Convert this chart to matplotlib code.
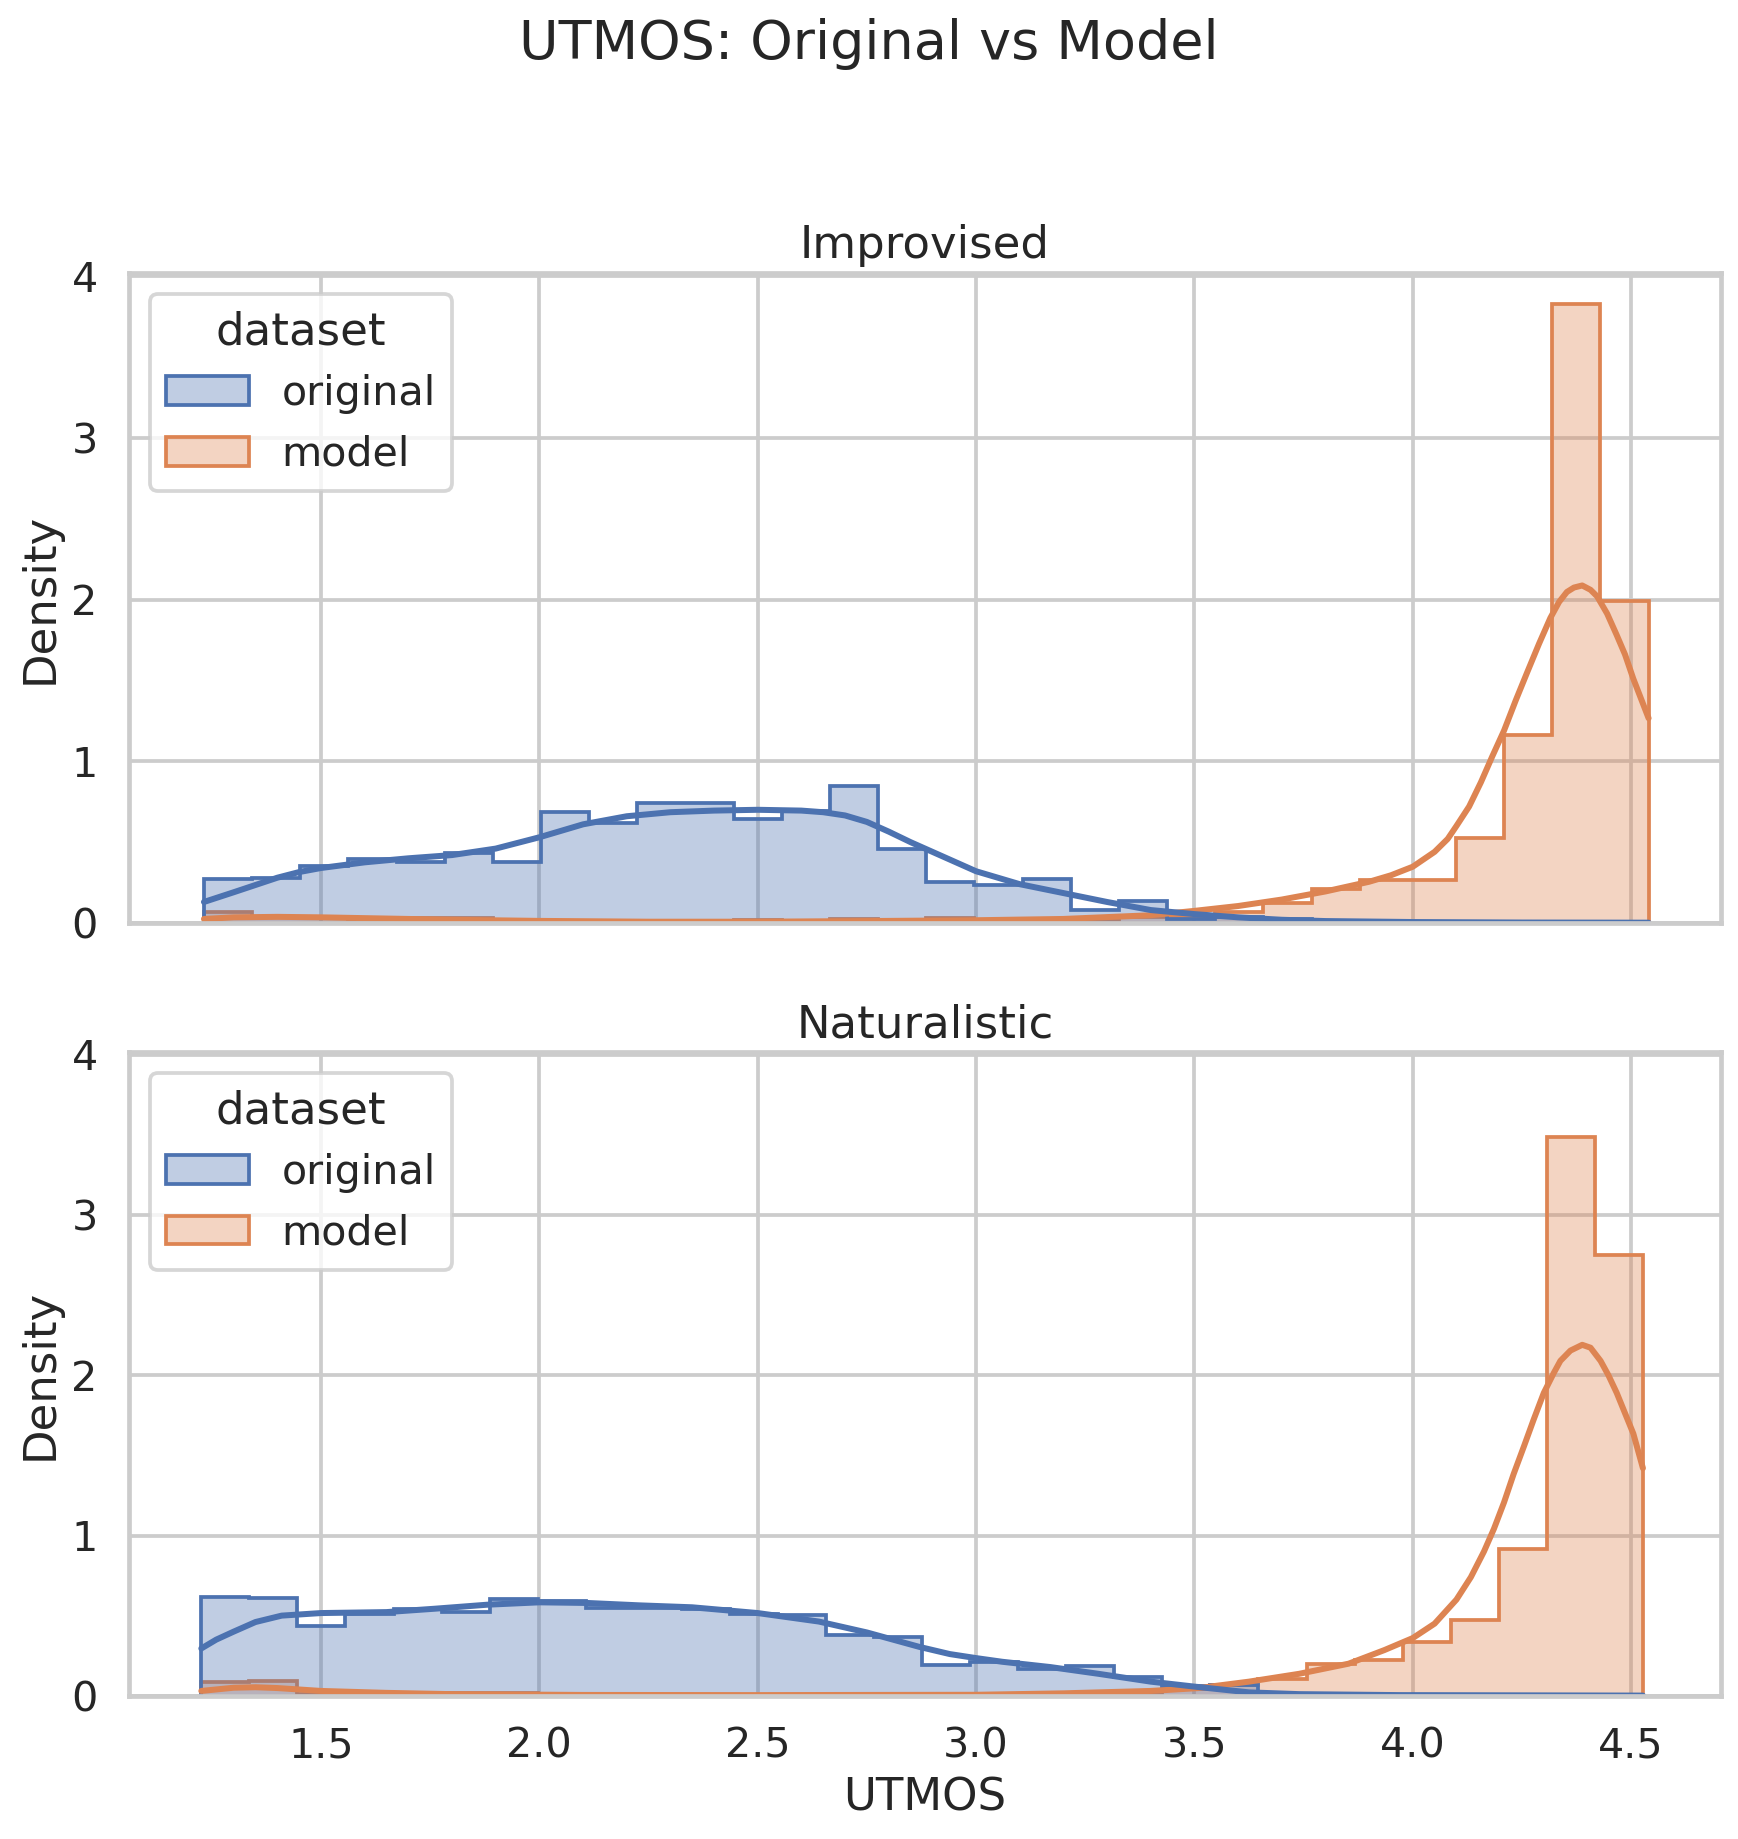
import numpy as np
import matplotlib
matplotlib.use("Agg")
import matplotlib.pyplot as plt
import seaborn as sns
from matplotlib.colors import to_rgba
from matplotlib.patches import Patch

sns.set_theme(style="whitegrid", context="talk")

# ---- data ----
panels = ["Improvised", "Naturalistic"]
datasets = ["original", "model"]

# histogram bin range per panel (30 common bins)
imp_range = (1.232, 4.540)
nat_range = (1.226, 4.527)
n_bins = 30

imp_original = [0.274, 0.280, 0.354, 0.396, 0.380, 0.434, 0.375, 0.686, 0.621, 0.739,
                0.739, 0.644, 0.695, 0.846, 0.455, 0.253, 0.238, 0.270, 0.080, 0.139,
                0.027, 0.034, 0.025, 0.010, 0.005, 0.005, 0.004, 0.003, 0.003, 0.003]
imp_model = [0.065, 0.040, 0.030, 0.025, 0.030, 0.030, 0.010, 0.010, 0.005, 0.010,
             0.010, 0.020, 0.010, 0.025, 0.020, 0.030, 0.020, 0.020, 0.020, 0.035,
             0.045, 0.065, 0.125, 0.210, 0.268, 0.268, 0.527, 1.164, 3.826, 1.993]
nat_original = [0.617, 0.613, 0.438, 0.510, 0.543, 0.520, 0.604, 0.590, 0.550, 0.550,
                0.543, 0.510, 0.505, 0.379, 0.364, 0.194, 0.210, 0.168, 0.185, 0.116,
                0.059, 0.067, 0.005, 0.004, 0.003, 0.002, 0.002, 0.001, 0.001, 0.001]
nat_model = [0.085, 0.095, 0.010, 0.010, 0.020, 0.020, 0.020, 0.005, 0.005, 0.005,
             0.005, 0.003, 0.003, 0.005, 0.005, 0.005, 0.005, 0.005, 0.010, 0.020,
             0.045, 0.070, 0.105, 0.200, 0.220, 0.333, 0.470, 0.917, 3.487, 2.753]

# kde curves (x, density) read at points along the line
imp_original_kde_x = [1.232, 1.30, 1.35, 1.40, 1.45, 1.50, 1.60, 1.70, 1.80, 1.90, 2.00,
                      2.10, 2.20, 2.30, 2.40, 2.50, 2.60, 2.65, 2.70, 2.75, 2.80, 2.85,
                      2.90, 2.95, 3.00, 3.10, 3.20, 3.30, 3.40, 3.50, 3.60, 3.70, 3.80,
                      4.00, 4.25, 4.54]
imp_original_kde_y = [0.13, 0.19, 0.235, 0.28, 0.315, 0.34, 0.375, 0.40, 0.42, 0.46, 0.53,
                      0.61, 0.66, 0.685, 0.695, 0.70, 0.695, 0.685, 0.665, 0.625, 0.565, 0.50,
                      0.44, 0.38, 0.32, 0.24, 0.185, 0.13, 0.08, 0.055, 0.035, 0.02, 0.012,
                      0.006, 0.003, 0.002]
imp_model_kde_x = [1.232, 1.30, 1.40, 1.50, 1.60, 1.80, 2.00, 2.25, 2.50, 2.75, 3.00,
                   3.20, 3.40, 3.50, 3.60, 3.70, 3.80, 3.90, 3.95, 4.00, 4.05, 4.08,
                   4.10, 4.129, 4.156, 4.182, 4.209, 4.236, 4.262, 4.289, 4.315, 4.335,
                   4.353, 4.369, 4.388, 4.407, 4.422, 4.445, 4.467, 4.486, 4.505, 4.54]
imp_model_kde_y = [0.025, 0.035, 0.038, 0.035, 0.03, 0.02, 0.013, 0.008, 0.008, 0.012, 0.017,
                   0.025, 0.048, 0.075, 0.105, 0.145, 0.195, 0.255, 0.295, 0.348, 0.44, 0.52,
                   0.60, 0.72, 0.87, 1.03, 1.19, 1.378, 1.55, 1.726, 1.886, 1.985,
                   2.047, 2.074, 2.087, 2.06, 2.02, 1.913, 1.78, 1.66, 1.51, 1.266]
nat_original_kde_x = [1.226, 1.26, 1.30, 1.35, 1.41, 1.50, 1.65, 1.76, 1.88, 2.00, 2.11,
                      2.23, 2.35, 2.50, 2.64, 2.75, 2.87, 2.94, 3.00, 3.06, 3.17, 3.28,
                      3.40, 3.50, 3.625, 3.74, 3.97, 4.527]
nat_original_kde_y = [0.295, 0.35, 0.40, 0.46, 0.50, 0.516, 0.522, 0.543, 0.568, 0.583, 0.579,
                      0.564, 0.552, 0.516, 0.463, 0.395, 0.305, 0.26, 0.235, 0.212, 0.179, 0.137,
                      0.088, 0.057, 0.021, 0.01, 0.004, 0.001]
nat_model_kde_x = [1.226, 1.30, 1.35, 1.40, 1.50, 1.65, 1.80, 2.10, 2.50, 3.00, 3.20,
                   3.40, 3.51, 3.625, 3.74, 3.853, 3.935, 4.00, 4.05, 4.08, 4.10, 4.133,
                   4.163, 4.186, 4.209, 4.231, 4.255, 4.277, 4.30, 4.323, 4.338, 4.361,
                   4.388, 4.407, 4.43, 4.448, 4.467, 4.486, 4.505, 4.527]
nat_model_kde_y = [0.03, 0.05, 0.053, 0.048, 0.03, 0.018, 0.01, 0.005, 0.004, 0.006, 0.015,
                   0.03, 0.048, 0.088, 0.137, 0.2, 0.285, 0.36, 0.45, 0.54, 0.60, 0.74,
                   0.90, 1.043, 1.207, 1.384, 1.56, 1.725, 1.89, 2.015, 2.09, 2.154,
                   2.19, 2.172, 2.09, 2.0, 1.89, 1.763, 1.636, 1.42]

colors = {"original": "#4C72B0", "model": "#DD8452"}
fill_alpha = 0.35

hists = {
    "Improvised": (imp_range, {"original": imp_original, "model": imp_model}),
    "Naturalistic": (nat_range, {"original": nat_original, "model": nat_model}),
}
kdes = {
    "Improvised": {"original": (imp_original_kde_x, imp_original_kde_y),
                   "model": (imp_model_kde_x, imp_model_kde_y)},
    "Naturalistic": {"original": (nat_original_kde_x, nat_original_kde_y),
                     "model": (nat_model_kde_x, nat_model_kde_y)},
}

fig, axes = plt.subplots(2, 1, figsize=(1738 / 180, 1839 / 180), dpi=180,
                         sharex=True, sharey=True,
                         gridspec_kw={"height_ratios": [650, 644]})
fig.subplots_adjust(left=0.0742, right=0.9902, top=0.8514, bottom=0.0779, hspace=0.1995)

ymax = 0
for ax, panel in zip(axes, panels):
    (lo, hi), vals = hists[panel]
    edges = np.linspace(lo, hi, n_bins + 1)
    # model drawn first so the original layer sits on top
    for name in ["model", "original"]:
        c = colors[name]
        ax.stairs(vals[name], edges, fill=True, facecolor=to_rgba(c, fill_alpha),
                  edgecolor=c, linewidth=1.5)
        ymax = max(ymax, max(vals[name]))
    for name in ["model", "original"]:
        kx, ky = kdes[panel][name]
        ax.plot(kx, ky, color=colors[name], linewidth=2.4,
                solid_joinstyle="round", solid_capstyle="round")

    ax.set_title(panel)
    ax.set_ylabel("Density")
    handles = [Patch(facecolor=to_rgba(colors[n], fill_alpha), edgecolor=colors[n],
                     linewidth=1.5, label=n) for n in datasets]
    ax.legend(handles=handles, title="dataset", loc="upper left")

axes[0].set_ylim(0, ymax * 1.05)
axes[0].set_yticks([0, 1, 2, 3, 4])
axes[1].set_xlabel("UTMOS")

fig.suptitle("UTMOS: Original vs Model", y=0.99, va="top")

fig.savefig("out.png", dpi=180)
